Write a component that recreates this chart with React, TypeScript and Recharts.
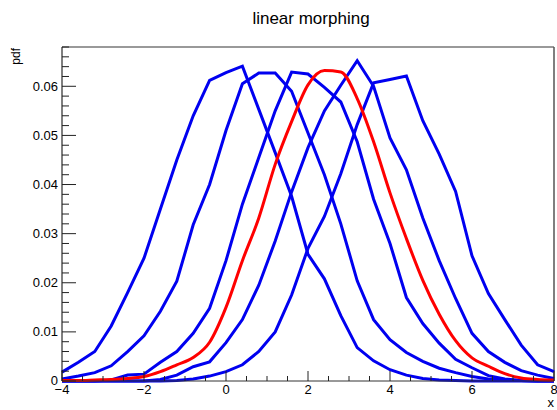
import React from "react";
import { LineChart, Line, XAxis, YAxis, ReferenceLine } from "recharts";

// sampling points along x
const xValues = [
  -4, -3.6, -3.2, -2.8, -2.4, -2, -1.6, -1.2, -0.8, -0.4, 0, 0.4, 0.8, 1.2, 1.6, 2,
  2.4, 2.8, 3.2, 3.6, 4, 4.4, 4.8, 5.2, 5.6, 6, 6.4, 6.8, 7.2, 7.6, 8,
];

// blue morph curves, left to right
const morph0 = [
  0.0018, 0.0038, 0.006, 0.0112, 0.018, 0.025, 0.035, 0.045, 0.054, 0.0612, 0.0628, 0.0641,
  0.0553, 0.0465, 0.0376, 0.0258, 0.0208, 0.0133, 0.0068, 0.0041, 0.0023, 0.0012, 0.0005,
  0.0002, 0.0001, 0, 0, 0, 0, 0, 0,
];
const morph1 = [
  0.0004, 0.001, 0.0017, 0.0031, 0.006, 0.0092, 0.0142, 0.0203, 0.0318, 0.04, 0.051, 0.0605,
  0.0627, 0.0627, 0.059, 0.0505, 0.042, 0.032, 0.0204, 0.0125, 0.0084, 0.0058, 0.004, 0.0026,
  0.0017, 0.0009, 0.0004, 0.0002, 0.0001, 0, 0,
];
const morph2 = [
  0, 0, 0, 0.0002, 0.0012, 0.0014, 0.0038, 0.006, 0.0097, 0.0148, 0.0245, 0.036, 0.0455,
  0.055, 0.0629, 0.0625, 0.0598, 0.0568, 0.0487, 0.037, 0.028, 0.017, 0.0117, 0.0077, 0.0044,
  0.0027, 0.0011, 0.0004, 0.0001, 0, 0,
];
const morph3 = [
  0, 0, 0, 0, 0, 0, 0.0003, 0.0012, 0.0029, 0.0039, 0.0078, 0.0125, 0.0195, 0.0285, 0.0385,
  0.0475, 0.055, 0.0602, 0.0652, 0.06, 0.0495, 0.043, 0.0332, 0.0245, 0.0168, 0.0097, 0.006,
  0.0038, 0.0021, 0.0012, 0.0005,
];
const morph4 = [
  0, 0, 0, 0, 0, 0, 0, 0.0001, 0.0004, 0.001, 0.0019, 0.0033, 0.006, 0.01, 0.0175, 0.027,
  0.0335, 0.0422, 0.0522, 0.0607, 0.0614, 0.0621, 0.053, 0.0462, 0.0386, 0.0255, 0.0178,
  0.0125, 0.0073, 0.0033, 0.0019,
];
// interpolated pdf (red)
const morphMid = [
  0.0001, 0.0001, 0.0002, 0.0003, 0.0005, 0.0009, 0.0019, 0.0033, 0.0048, 0.0079, 0.015,
  0.0245, 0.0332, 0.0441, 0.0528, 0.0603, 0.0632, 0.0629, 0.0575, 0.0487, 0.0383, 0.029,
  0.0205, 0.0136, 0.0082, 0.0047, 0.003, 0.0015, 0.0006, 0.0003, 0.0002,
];

const xLabels = ["\u22124", "\u22122", "0", "2", "4", "6", "8"];
const yLabels = ["0", "0.01", "0.02", "0.03", "0.04", "0.05", "0.06"];

const data = xValues.map((x, i) => ({
  x,
  m0: morph0[i],
  m1: morph1[i],
  m2: morph2[i],
  m3: morph3[i],
  m4: morph4[i],
  mid: morphMid[i],
}));

const xTicks = Array.from({ length: 25 }, (_, i) => -4 + i * 0.5);
const yTicks = Array.from({ length: 35 }, (_, i) => Number((i * 0.002).toFixed(3)));

const FONT = "'Liberation Sans', Arial, Helvetica, sans-serif";
const BLUE = "#0000f0";
const RED = "#ff0000";

function XTick(props: any) {
  const { x, y, payload } = props;
  const idx = Math.round((payload.value + 4) / 0.5);
  const major = idx % 4 === 0;
  const axisY = y - 4;
  return (
    <g>
      <line x1={x} x2={x} y1={axisY} y2={axisY - (major ? 10 : 5)} stroke="#222" />
      {major && (
        <text x={x} y={axisY + 13} textAnchor="middle" fontSize={13} fontFamily={FONT} fill="#000">
          {xLabels[idx / 4]}
        </text>
      )}
    </g>
  );
}

function YTick(props: any) {
  const { x, y, payload } = props;
  const idx = Math.round(payload.value / 0.002);
  const major = idx % 5 === 0;
  const axisX = x + 4;
  return (
    <g>
      <line x1={axisX} x2={axisX + (major ? 14 : 7)} y1={y} y2={y} stroke="#222" />
      {major && (
        <text x={axisX - 4} y={y + 4.3} textAnchor="end" fontSize={13} fontFamily={FONT} fill="#000">
          {yLabels[idx / 5]}
        </text>
      )}
    </g>
  );
}

export default function App() {
  return (
    <div style={{ position: "absolute", left: 0, top: 0, width: 557, height: 410, background: "#fff" }}>
      <LineChart width={557} height={410} data={data} margin={{ top: 47, right: 3, bottom: 0, left: 0 }}>
        <XAxis
          dataKey="x"
          type="number"
          domain={[-4, 8]}
          ticks={xTicks}
          interval={0}
          tickSize={0}
          tickMargin={4}
          tick={<XTick />}
          height={29}
          axisLine={{ stroke: "#333" }}
        />
        <YAxis
          type="number"
          domain={[0, 0.068]}
          ticks={yTicks}
          interval={0}
          tickSize={0}
          tickMargin={4}
          tick={<YTick />}
          width={62}
          axisLine={{ stroke: "#000" }}
        />
        <ReferenceLine y={0.068} stroke="#777" strokeWidth={1.5} />
        <ReferenceLine x={8} stroke="#555" strokeWidth={1.5} />
        <Line dataKey="m0" type="linear" stroke={BLUE} strokeWidth={3} dot={false} isAnimationActive={false} />
        <Line dataKey="m1" type="linear" stroke={BLUE} strokeWidth={3} dot={false} isAnimationActive={false} />
        <Line dataKey="m2" type="linear" stroke={BLUE} strokeWidth={3} dot={false} isAnimationActive={false} />
        <Line dataKey="m3" type="linear" stroke={BLUE} strokeWidth={3} dot={false} isAnimationActive={false} />
        <Line dataKey="m4" type="linear" stroke={BLUE} strokeWidth={3} dot={false} isAnimationActive={false} />
        <Line dataKey="mid" type="monotone" stroke={RED} strokeWidth={3} dot={false} isAnimationActive={false} />
      </LineChart>
      <svg width={557} height={410} style={{ position: "absolute", left: 0, top: 0, pointerEvents: "none" }}>
        <text x={311} y={24} textAnchor="middle" fontSize={17} fontFamily={FONT} fill="#000">
          linear morphing
        </text>
        <text x={20} y={48} transform="rotate(-90 20 48)" textAnchor="end" fontSize={12} fontFamily={FONT} fill="#000">
          pdf
        </text>
        <text x={554} y={407} textAnchor="end" fontSize={13} fontFamily={FONT} fill="#000">
          x
        </text>
      </svg>
    </div>
  );
}
